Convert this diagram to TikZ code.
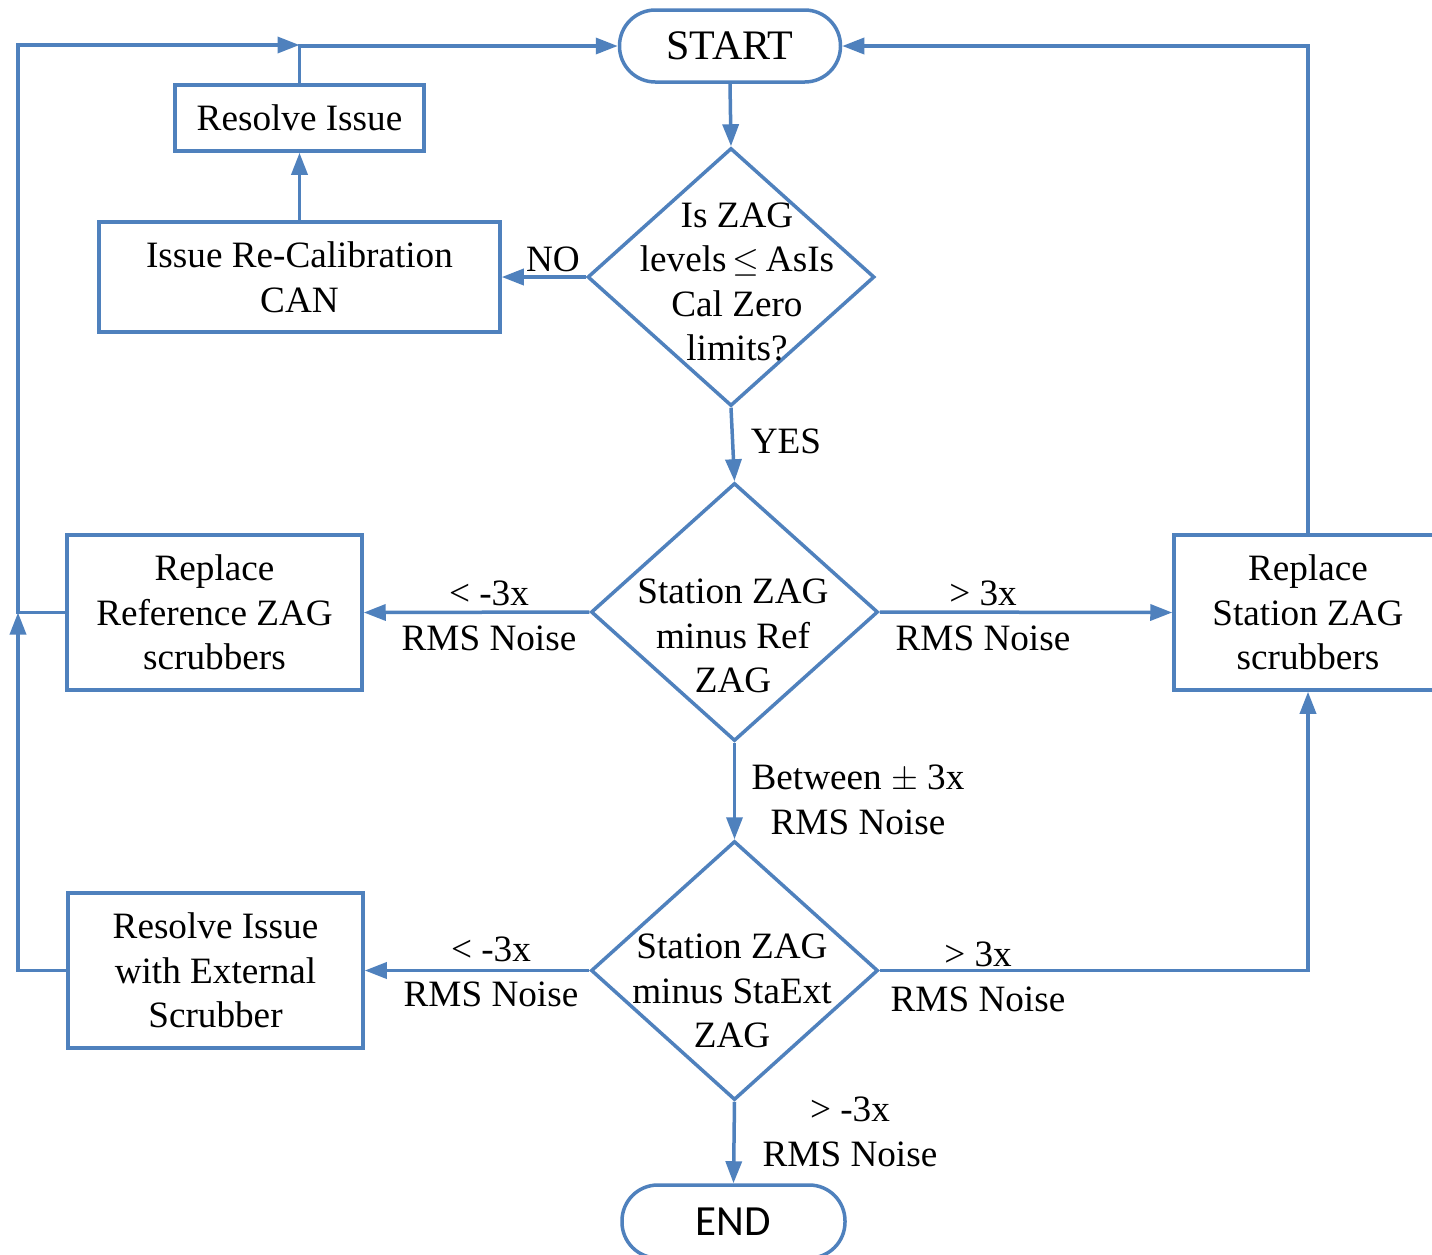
\documentclass[tikz,border=0pt]{standalone}
\usepackage{fontspec}
\setmainfont{Liberation Serif}
\newfontfamily\carlito{Carlito}
\usetikzlibrary{shapes.geometric,arrows.meta}
\definecolor{flow}{RGB}{79,129,189}
\tikzset{
  ln/.style={draw=flow,line width=1.75pt},
  arr/.style={ln,-{Triangle[length=11pt,width=8pt]}},
  txt/.style={align=center,inner sep=0pt,font=\fontsize{18.6}{22.3}\selectfont},
  boxnode/.style={ln,rectangle,inner sep=0pt,align=center,font=\fontsize{18.6}{22.3}\selectfont},
  term/.style={ln,rectangle,rounded corners=17.9pt,inner sep=0pt,font=\fontsize{21}{25}\selectfont},
  dec/.style={ln,diamond,inner sep=0pt,minimum width=143.5pt,minimum height=129pt},
}
\begin{document}
\begin{tikzpicture}[x=0.5pt,y=-0.5pt]
\clip (0,0) rectangle (1432,1255);
\fill[white] (0,0) rectangle (1432,1255);
% nodes
\node[term,minimum width=110.5pt,minimum height=36pt] (start) at (730,46) {START};
\node[dec] (d1) at (731,277) {};
\node[txt] (d1t) at (737,282) {Is ZAG\\levels\,$\leq$\,AsIs\\Cal Zero\\limits?};
\node[boxnode,minimum width=200.5pt,minimum height=55pt] (can) at (299.5,277) {Issue Re-Calibration\\CAN};
\node[boxnode,minimum width=124.5pt,minimum height=33pt] (resolve) at (299.5,118) {Resolve Issue};
\node[dec] (d2) at (734.5,612) {};
\node[txt] (d2t) at (733,636) {Station ZAG\\minus Ref\\ZAG};
\node[boxnode,minimum width=147.5pt,minimum height=77.5pt] (refbox) at (214.5,612.5) {Replace\\Reference ZAG\\scrubbers};
\node[boxnode,minimum width=134pt,minimum height=77.5pt] (stabox) at (1308,612.5) {Replace\\Station ZAG\\scrubbers};
\node[dec,minimum height=129.5pt] (d3) at (734.5,970.5) {};
\node[txt] (d3t) at (732,991) {Station ZAG\\minus StaExt\\ZAG};
\node[boxnode,minimum width=147.5pt,minimum height=77.5pt] (extbox) at (215.5,970.5) {Resolve Issue\\with External\\Scrubber};
\node[term,minimum width=111.5pt,minimum height=36.5pt,font=\carlito\fontsize{21.5}{25}\selectfont] (end) at (733.5,1221.5) {END};
% coordinates
\coordinate (jtop) at (299.5,45);
\coordinate (lleft) at (18,612.5);
% connectors
\draw[arr] (start.south) -- (d1.north);
\draw[arr] (d1.west) -- (can.east);
\node[txt] (nolab) at (553,259) {NO};
\draw[arr] (can.north) -- (resolve.south);
\draw[arr] (resolve.north) |- (start.west);
\draw[arr] (refbox.west) -- (lleft) |- (jtop);
\draw[arr] (d1.south) -- (d2.north);
\node[txt] (yeslab) at (786,441) {YES};
\draw[arr] (d2.west) -- (refbox.east);
\node[txt] (l1) at (489,616) {< -3x\\RMS Noise};
\draw[arr] (d2.east) -- (stabox.west);
\node[txt] (l2) at (983,616) {> 3x\\RMS Noise};
\draw[arr] (stabox.north) |- (start.east);
\draw[arr] (d2.south) -- (d3.north);
\node[txt] (l3) at (858,800) {Between $\pm$ 3x\\RMS Noise};
\draw[arr] (d3.west) -- (extbox.east);
\node[txt] (l4) at (491,972) {< -3x\\RMS Noise};
\draw[arr] (extbox.west) -| (lleft);
\draw[arr] (d3.east) -| (stabox.south);
\node[txt] (l5) at (978,977) {> 3x\\RMS Noise};
\draw[arr] (d3.south) -- (end.north);
\node[txt] (l6) at (850,1132) {> -3x\\RMS Noise};
\end{tikzpicture}
\end{document}
